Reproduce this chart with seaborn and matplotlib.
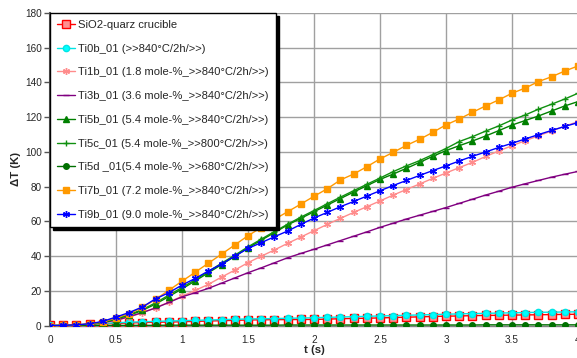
import numpy as np
import pandas as pd
import matplotlib
matplotlib.use("Agg")
import matplotlib.pyplot as plt
import seaborn as sns

t = [round(0.1 * i, 1) for i in range(41)]

sio2 = [0.2, 0.3, 0.5, 0.8, 1.1, 1.3, 1.6, 1.8, 2.0, 2.1, 2.3, 2.5, 2.7, 2.9, 3.1, 3.3, 3.4, 3.5, 3.5, 3.6,
        3.6, 3.8, 4.0, 4.2, 4.3, 4.5, 4.7, 4.9, 5.1, 5.3, 5.5, 5.6, 5.8, 5.9, 6.0, 6.1, 6.2, 6.3, 6.4, 6.5, 6.6]
ti0b = [0.2, 0.3, 0.5, 0.9, 1.3, 1.7, 2.0, 2.3, 2.5, 2.7, 2.9, 3.1, 3.3, 3.5, 3.7, 3.9, 4.0, 4.1, 4.3, 4.4,
        4.6, 4.8, 5.0, 5.2, 5.4, 5.6, 5.8, 6.0, 6.2, 6.4, 6.6, 6.8, 7.0, 7.1, 7.3, 7.4, 7.6, 7.7, 7.8, 7.9, 8.0]
ti1b = [0.0, 0.1, 0.3, 0.8, 1.6, 3.0, 5.0, 7.5, 10.4, 13.5, 17.0, 20.3, 23.8, 28.0, 32.0, 36.3, 40.0, 43.6, 47.4, 51.0,
        54.7, 58.3, 61.8, 65.2, 68.5, 71.8, 75.2, 78.4, 81.6, 84.8, 87.9, 91.0, 94.0, 97.4, 100.6, 103.6, 106.5, 109.3, 112.1, 114.9, 117.4]
ti3b = [0.0, 0.1, 0.3, 0.8, 1.8, 3.2, 5.2, 7.6, 10.2, 13.4, 16.6, 19.0, 21.5, 24.5, 27.5, 30.5, 33.3, 36.2, 39.1, 41.6,
        44.0, 46.5, 49.0, 51.5, 54.0, 56.6, 59.0, 61.4, 63.6, 65.8, 68.0, 70.4, 72.8, 75.2, 77.4, 79.7, 81.7, 83.6, 85.5, 87.2, 88.8]
ti5b = [0.0, 0.1, 0.3, 0.8, 1.8, 3.8, 6.0, 8.8, 12.5, 16.8, 21.2, 25.8, 30.5, 35.2, 40.0, 44.8, 49.2, 53.6, 58.0, 61.8,
        65.6, 69.4, 73.2, 76.9, 80.6, 84.2, 87.3, 90.6, 94.0, 97.5, 100.8, 103.6, 106.3, 109.2, 112.3, 115.5, 118.1, 120.7, 123.6, 126.5, 129.0]
ti5c = [0.0, 0.1, 0.3, 0.9, 2.0, 4.0, 6.4, 9.3, 13.2, 17.6, 22.0, 26.5, 31.2, 36.0, 40.6, 45.4, 49.8, 54.2, 58.4, 62.5,
        66.3, 70.2, 74.0, 77.7, 81.4, 85.0, 88.7, 92.0, 95.0, 98.5, 102.0, 106.0, 108.8, 112.0, 115.0, 118.4, 121.3, 124.6, 127.5, 130.5, 133.8]
ti5d = [0.0, 0.0, 0.1, 0.1, 0.1, 0.2, 0.2, 0.2, 0.2, 0.3, 0.3, 0.3, 0.3, 0.3, 0.3, 0.3, 0.3, 0.3, 0.4, 0.4,
        0.4, 0.4, 0.4, 0.4, 0.4, 0.4, 0.4, 0.4, 0.4, 0.4, 0.4, 0.4, 0.4, 0.5, 0.5, 0.5, 0.5, 0.5, 0.5, 0.5, 0.5]
ti7b = [0.0, 0.2, 0.5, 1.0, 2.2, 4.5, 7.0, 10.5, 15.2, 20.4, 25.6, 30.8, 36.0, 41.2, 46.5, 51.8, 56.5, 61.2, 65.6, 70.0,
        74.5, 78.8, 83.9, 87.3, 91.5, 96.0, 99.8, 103.8, 107.3, 111.3, 115.6, 119.0, 122.8, 126.5, 130.0, 133.8, 136.8, 140.5, 143.3, 146.6, 149.5]
ti9b = [0.0, 0.2, 0.5, 1.1, 2.5, 5.0, 7.6, 10.8, 15.5, 19.0, 23.4, 27.2, 31.5, 35.5, 40.0, 44.5, 47.8, 51.2, 54.5, 58.3,
        62.0, 65.2, 68.5, 71.5, 74.6, 77.7, 80.7, 83.6, 86.5, 89.3, 92.0, 94.8, 97.5, 100.0, 102.6, 105.0, 107.5, 110.0, 112.4, 114.7, 116.9]

labels = ["SiO2-quarz crucible",
          "Ti0b_01 (>>840°C/2h/>>)",
          "Ti1b_01 (1.8 mole-%_>>840°C/2h/>>)",
          "Ti3b_01 (3.6 mole-%_>>840°C/2h/>>)",
          "Ti5b_01 (5.4 mole-%_>>840°C/2h/>>)",
          "Ti5c_01 (5.4 mole-%_>>800°C/2h/>>)",
          "Ti5d _01(5.4 mole-%_>>680°C/2h/>>)",
          "Ti7b_01 (7.2 mole-%_>>840°C/2h/>>)",
          "Ti9b_01 (9.0 mole-%_>>840°C/2h/>>)"]
series = [sio2, ti0b, ti1b, ti3b, ti5b, ti5c, ti5d, ti7b, ti9b]

colors = ["#FF0000", "#00E5E5", "#FF8C8C", "#800080", "#008000", "#109010", "#007000", "#FF9900", "#0000FF"]
markers = ["s", "o", (6, 2, 0), "_", "^", "+", "o", "s", (6, 2, 0)]
msizes = [5.5, 4.5, 5, 4, 4.5, 5, 4, 5, 5]
mfc = ["#FF9090", "#00FFFF", "#FF8C8C", "#800080", "#008000", "#109010", "#007000", "#FF9900", "#0000FF"]

df = pd.DataFrame({"t": np.tile(t, len(series)),
                   "dT": np.concatenate(series),
                   "series": np.repeat(labels, len(t))})

sns.set_style("white")
plt.rcParams["font.family"] = ["Liberation Sans", "DejaVu Sans"]

fig = plt.figure(figsize=(5.77, 3.58), dpi=100)
ax = fig.add_axes([0.0867, 0.0902, 0.9150, 0.8735])

for i, lab in enumerate(labels):
    sub = df[df["series"] == lab]
    sns.lineplot(data=sub, x="t", y="dT", ax=ax, color=colors[i], marker=markers[i],
                 markersize=msizes[i], markerfacecolor=mfc[i], markeredgecolor=colors[i],
                 markeredgewidth=1.0, linewidth=1.0, label=lab, zorder=3 + i)

ax.set_xlim(0, 4)
ax.set_ylim(0, 180)
ax.set_xticks([0, 0.5, 1, 1.5, 2, 2.5, 3, 3.5, 4])
ax.set_xticklabels(["0", "0.5", "1", "1.5", "2", "2.5", "3", "3.5", "4"])
ax.set_yticks(range(0, 181, 20))
ax.grid(True, color="#A0A0A0", linewidth=1.0)
ax.set_axisbelow(True)
for s in ["top", "right"]:
    ax.spines[s].set_visible(False)
ax.spines["left"].set_color("#555555")
ax.spines["left"].set_linewidth(1.5)
ax.spines["bottom"].set_color("#808080")
ax.spines["bottom"].set_linewidth(1.0)
ax.tick_params(axis="y", left=True, length=4, width=1, color="#555555", labelsize=7.2, pad=2)
ax.tick_params(axis="x", bottom=False, labelsize=7.2, pad=3)
ax.set_xlabel("t (s)", fontsize=8.2, fontweight="bold", labelpad=0)
ax.set_ylabel("ΔT (K)", fontsize=8.2, fontweight="bold", labelpad=3)

leg = ax.legend(loc="upper left", bbox_to_anchor=(0.0, 1.0), borderaxespad=0.0,
                fontsize=8.1, labelspacing=1.22, handlelength=1.6, handletextpad=0.3,
                borderpad=0.62, fancybox=False, frameon=True,
                shadow={"color": "black", "alpha": 1.0})
leg.get_frame().set_edgecolor("black")
leg.get_frame().set_linewidth(1.0)
leg.set_zorder(20)

fig.savefig("out.png", dpi=100)
